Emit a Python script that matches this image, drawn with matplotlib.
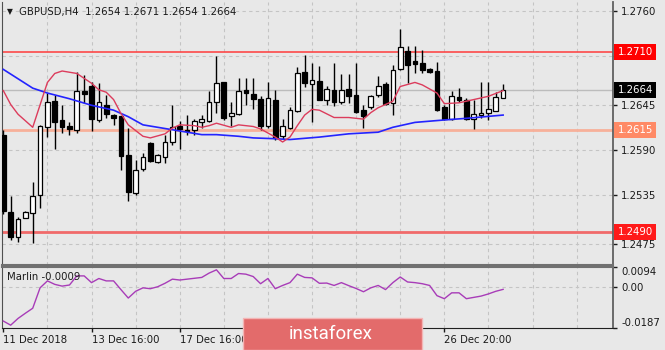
import matplotlib.pyplot as plt
from matplotlib.patches import Rectangle
import numpy as np

W, H = 665, 350
BG = '#e8e8e8'
FONT = 'DejaVu Sans'

# GBPUSD H4 candles
opens = [1.2609, 1.2514, 1.2483, 1.2507, 1.2513, 1.2535, 1.2618, 1.2650, 1.2627, 1.2620,
         1.2615, 1.2662, 1.2669, 1.2627, 1.2645, 1.2633, 1.2632, 1.2584, 1.2538, 1.2567,
         1.2599, 1.2575, 1.2582, 1.2600, 1.2619, 1.2615, 1.2615, 1.2625, 1.2626, 1.2649,
         1.2673, 1.2632, 1.2634, 1.2664, 1.2659, 1.2653, 1.2619, 1.2652, 1.2607, 1.2617,
         1.2638, 1.2686, 1.2671, 1.2675, 1.2651, 1.2664, 1.2649, 1.2665, 1.2658, 1.2639,
         1.2643, 1.2658, 1.2671, 1.2648, 1.2690, 1.2712, 1.2699, 1.2697, 1.2690, 1.2687,
         1.2643, 1.2628, 1.2655, 1.2652, 1.2628, 1.2633, 1.2636, 1.2638, 1.2654]
highs = [1.2615, 1.2534, 1.2508, 1.2515, 1.2551, 1.2621, 1.2660, 1.2658, 1.2645, 1.2625,
         1.2686, 1.2682, 1.2674, 1.2672, 1.2658, 1.2634, 1.2632, 1.2617, 1.2578, 1.2586,
         1.2600, 1.2585, 1.2609, 1.2645, 1.2626, 1.2633, 1.2628, 1.2633, 1.2663, 1.2705,
         1.2674, 1.2649, 1.2678, 1.2678, 1.2678, 1.2656, 1.2674, 1.2664, 1.2628, 1.2643,
         1.2692, 1.2707, 1.2697, 1.2693, 1.2669, 1.2697, 1.2683, 1.2683, 1.2697, 1.2645,
         1.2658, 1.2681, 1.2674, 1.2694, 1.2739, 1.2718, 1.2718, 1.2713, 1.2691, 1.2698,
         1.2645, 1.2662, 1.2666, 1.2654, 1.2652, 1.2674, 1.2674, 1.2661, 1.2671]
lows = [1.2512, 1.2480, 1.2478, 1.2507, 1.2476, 1.2519, 1.2606, 1.2592, 1.2611, 1.2609,
        1.2611, 1.2648, 1.2613, 1.2625, 1.2629, 1.2621, 1.2566, 1.2528, 1.2535, 1.2565,
        1.2575, 1.2574, 1.2574, 1.2596, 1.2592, 1.2609, 1.2609, 1.2617, 1.2625, 1.2636,
        1.2627, 1.2620, 1.2633, 1.2645, 1.2641, 1.2615, 1.2617, 1.2603, 1.2604, 1.2616,
        1.2637, 1.2668, 1.2625, 1.2651, 1.2645, 1.2644, 1.2647, 1.2648, 1.2635, 1.2617,
        1.2641, 1.2655, 1.2645, 1.2633, 1.2688, 1.2672, 1.2684, 1.2684, 1.2685, 1.2638,
        1.2627, 1.2627, 1.2649, 1.2627, 1.2616, 1.2629, 1.2627, 1.2638, 1.2654]
closes = [1.2515, 1.2484, 1.2506, 1.2514, 1.2534, 1.2620, 1.2649, 1.2625, 1.2618, 1.2616,
          1.2663, 1.2659, 1.2628, 1.2649, 1.2634, 1.2630, 1.2583, 1.2539, 1.2566, 1.2581,
          1.2577, 1.2584, 1.2600, 1.2618, 1.2616, 1.2613, 1.2626, 1.2628, 1.2649, 1.2672,
          1.2630, 1.2635, 1.2663, 1.2660, 1.2653, 1.2620, 1.2654, 1.2605, 1.2620, 1.2639,
          1.2685, 1.2672, 1.2676, 1.2652, 1.2665, 1.2649, 1.2664, 1.2656, 1.2637, 1.2632,
          1.2656, 1.2669, 1.2647, 1.2688, 1.2716, 1.2694, 1.2696, 1.2688, 1.2686, 1.2639,
          1.2628, 1.2656, 1.2652, 1.2628, 1.2634, 1.2636, 1.2640, 1.2655, 1.2664]

# moving averages (fast red, slow blue), sampled at bar indices
ma_fast_idx = [0, 1, 2, 4, 6, 7, 8, 10, 11, 12, 13, 14, 15, 16, 17, 19, 20, 22, 23, 24,
               26, 27, 28, 29, 31, 32, 34, 35, 37, 38, 39, 40, 41, 42, 43, 45, 47, 49, 50,
               51, 53, 54, 56, 57, 59, 60, 62, 64, 66, 68]
ma_fast = [1.2663, 1.2646, 1.2634, 1.2618, 1.2673, 1.2684, 1.2687, 1.2684, 1.2678, 1.2672,
           1.2664, 1.2661, 1.2652, 1.2635, 1.2621, 1.2607, 1.2605, 1.2610, 1.2617, 1.2621,
           1.2620, 1.2618, 1.2620, 1.2623, 1.2618, 1.2621, 1.2619, 1.2616, 1.2606, 1.2600,
           1.2606, 1.2620, 1.2633, 1.2640, 1.2639, 1.2630, 1.2630, 1.2628, 1.2636,
           1.2642, 1.2650, 1.2668, 1.2673, 1.2670, 1.2660, 1.2647, 1.2648, 1.2652, 1.2656, 1.2663]
ma_slow_idx = [0, 4, 6, 9, 12, 15, 17, 19, 23, 27, 29, 32, 34, 37, 39, 43, 47, 51, 53, 56,
               60, 63, 68]
ma_slow = [1.2689, 1.2666, 1.2660, 1.2653, 1.2645, 1.2639, 1.2631, 1.2621, 1.2615, 1.2609,
           1.2609, 1.2607, 1.2605, 1.2604, 1.2603, 1.2606, 1.2610, 1.2612, 1.2618, 1.2624,
           1.2627, 1.2629, 1.2633]

marlin = [-0.0155, -0.0174, -0.0143, -0.0119, -0.0096, -0.0002, 0.0030, 0.0014, 0.0006, 0.0011,
          0.0053, 0.0053, 0.0022, 0.0041, 0.0030, 0.0030, -0.0010, -0.0049, -0.0018, -0.0002,
          -0.0006, 0.0003, 0.0019, 0.0038, 0.0034, 0.0038, 0.0042, 0.0046, 0.0066, 0.0081,
          0.0041, 0.0041, 0.0064, 0.0061, 0.0050, 0.0017, 0.0041, -0.0006, 0.0009, 0.0022,
          0.0061, 0.0046, 0.0044, 0.0019, 0.0020, 0.0009, 0.0022, 0.0008, -0.0005, -0.0020,
          -0.0002, 0.0009, -0.0010, 0.0022, 0.0048, 0.0025, 0.0022, 0.0017, 0.0009, -0.0038,
          -0.0052, -0.0025, -0.0025, -0.0052, -0.0046, -0.0040, -0.0030, -0.0018, -0.0009]

# horizontal levels: price, line colour, line width, tag colour
levels = [(1.2710, '#ff3b3b', 1.1, '#ff0000'),
          (1.2615, '#f7b09a', 2.0, '#ff8a66'),
          (1.2490, '#f06a6a', 2.0, '#ff1a1a')]
bid = 1.2664

price_ticks = [1.2760, 1.2705, 1.2645, 1.2590, 1.2535, 1.2475]
time_ticks = [0, 12, 24, 36, 48, 60]
# the two middle dates sit under the logo badge
time_labels = ['11 Dec 2018', '13 Dec 16:00', '17 Dec 16:00', '', '', '26 Dec 20:00']

plt.rcParams['font.family'] = FONT
fig = plt.figure(figsize=(W / 100, H / 100), dpi=100, facecolor=BG)
ax = fig.add_axes([2 / W, 1 - 265 / H, 611 / W, 263 / H], facecolor=BG)
ax2 = fig.add_axes([2 / W, 1 - 328 / H, 611 / W, 61 / H], facecolor=BG)

xmin, xmax = -0.18, 82.95
ax.set_xlim(xmin, xmax)
ax.set_ylim(1.24492, 1.27716)
ax2.set_xlim(xmin, xmax)
ax2.set_ylim(-0.0187, 0.0094)

grid_kw = dict(color='#c4c4c4', lw=0.8, dashes=(3, 3))
for g in range(6, 83, 6):
    ax.axvline(g, zorder=0.5, **grid_kw)
    ax2.axvline(g, zorder=0.5, **grid_kw)
for p in price_ticks:
    ax.axhline(p, zorder=0.5, **grid_kw)
ax2.axhline(0.0, zorder=0.5, **grid_kw)

# price levels
for p, lc, lw, tc in levels:
    ax.axhline(p, color=lc, lw=lw, zorder=2)
ax.axhline(bid, color='#bcbcbc', lw=1, zorder=1.5)

# candles
for i in range(len(opens)):
    o, h, l, c = opens[i], highs[i], lows[i], closes[i]
    ax.vlines(i, l, h, color='black', lw=1, zorder=3)
    bottom = min(o, c)
    height = max(abs(c - o), 0.00004)
    ax.add_patch(Rectangle((i - 0.32, bottom), 0.64, height,
                           facecolor='white' if c >= o else 'black',
                           edgecolor='black', lw=0.9, zorder=4))

ax.plot(ma_slow_idx, ma_slow, color='#2424ff', lw=1.2, zorder=5)
ax.plot(ma_fast_idx, ma_fast, color='#dc3c5c', lw=1.0, zorder=5)

ax2.plot(np.arange(len(marlin)), marlin, color='#a83cb8', lw=1.0, zorder=3)

# axes frames
for a in (ax, ax2):
    a.spines['top'].set_visible(False)
    a.spines['left'].set_color('#505050')
    a.spines['right'].set_color('#606060')
    a.spines['right'].set_linewidth(1.3)
ax.spines['bottom'].set_color('#707070')
ax.spines['bottom'].set_linewidth(1.5)
ax2.spines['top'].set_visible(True)
ax2.spines['top'].set_color('#707070')
ax2.spines['top'].set_linewidth(1.5)
ax2.spines['bottom'].set_color('#202020')

ax.yaxis.tick_right()
ax.set_yticks(price_ticks)
ax.set_yticklabels(['%.4f' % p for p in price_ticks])
ax.tick_params(axis='y', length=3, width=1, pad=3, labelsize=7.3,
               colors='#1a1a1a')
ax.set_xticks([])

ax2.yaxis.tick_right()
ax2.set_yticks([0.0094, 0.0, -0.0187])
ax2.set_yticklabels(['0.0094', '0.00', '-0.0187'])
ax2.tick_params(axis='y', length=3, width=1, pad=3, labelsize=7.3,
                colors='#1a1a1a')
ylabs = ax2.get_yticklabels()
ylabs[0].set_va('top')
ylabs[2].set_va('bottom')
ax2.set_xticks(time_ticks)
ax2.set_xticklabels(time_labels)
ax2.tick_params(axis='x', length=3, width=1, pad=2, labelsize=7.3,
                colors='#1a1a1a')
for lbl in ax2.get_xticklabels():
    lbl.set_ha('left')

# value tags on the price scale
tag_x = (617.5 - 2) / 611
for p, lc, lw, tc in levels:
    ax.text(tag_x, p, '%.4f' % p, transform=ax.get_yaxis_transform(),
            ha='left', va='center', fontsize=7.3, color='white', zorder=10,
            clip_on=False,
            bbox=dict(boxstyle='square,pad=0.3', fc=tc, ec='none'))
ax.text(tag_x, bid, '%.4f' % bid, transform=ax.get_yaxis_transform(),
        ha='left', va='center', fontsize=7.3, color='white', zorder=10,
        clip_on=False, bbox=dict(boxstyle='square,pad=0.3', fc='black', ec='none'))

# chart header and indicator name
fig.text(7 / W, 1 - 12 / H, '\u25bc', fontsize=5.5, color='#1a1a1a', va='center')
fig.text(19 / W, 1 - 12 / H,
         'GBPUSD,H4  %.4f %.4f %.4f %.4f' % (opens[-1], highs[-1], lows[-1], closes[-1]),
         fontsize=7.3, color='#1a1a1a', va='center')
fig.text(7 / W, 1 - 277 / H, 'Marlin %.4f' % marlin[-1], fontsize=7.3,
         color='#1a1a1a', va='center')

# logo badge
fig.patches.append(Rectangle((243 / W, 0), 179 / W, 32 / H, transform=fig.transFigure,
                             facecolor='#e36b6b', edgecolor='#f3b5b5', lw=1, zorder=20))
fig.text(331 / W, 1 - 334 / H, 'instaforex', fontsize=13.5, family='Roboto',
         color='white', ha='center', va='center', zorder=21)

fig.savefig('out.png', dpi=100, facecolor=BG)
